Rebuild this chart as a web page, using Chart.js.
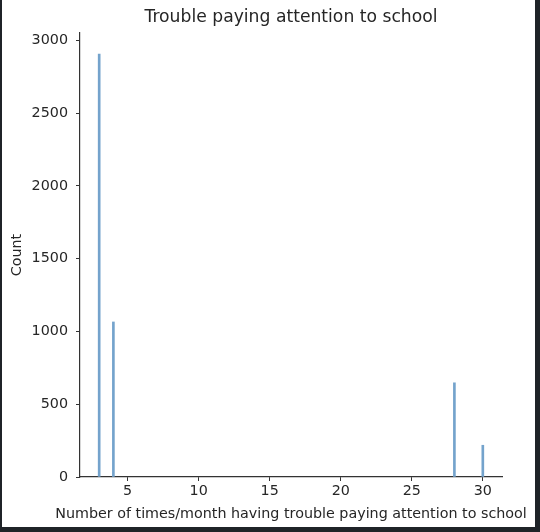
<!DOCTYPE html>
<html>
<head>
<meta charset="utf-8">
<script src="https://cdn.jsdelivr.net/npm/chart.js@4/dist/chart.umd.min.js"></script>
<style>
  html, body { margin: 0; padding: 0; background: #1f2328; width: 540px; height: 532px; overflow: hidden; }
  #frame { position: absolute; left: 2px; top: 0; width: 533px; height: 527px; background: #fff; }
  canvas { display: block; }
</style>
</head>
<body>
<div id="frame"><canvas id="grafico" width="533" height="527"></canvas></div>
<script>
// times per month (x) and how many people reported it
let veces = [3, 4, 28, 30];
let cuentas = [2905, 1065, 647, 218];
let xTicks = [5, 10, 15, 20, 25, 30];
let yTicks = [0, 500, 1000, 1500, 2000, 2500, 3000];

let titulo = 'Trouble paying attention to school';
let xTitulo = 'Number of times/month having trouble paying attention to school';
let yTitulo = 'Count';

Chart.defaults.font.family = '"DejaVu Sans"';
Chart.defaults.font.size = 14.3;
Chart.defaults.color = '#262626';

// title and x label centred over the plot area, like matplotlib does
// (drawn by hand so Chart.js doesn't squeeze the long x label to the axis width)
const textosPlugin = {
    id: 'textosPlot',
    afterDraw(chart) {
        let ctx = chart.ctx;
        let area = chart.chartArea;
        let centro = (area.left + area.right) / 2;
        ctx.save();
        ctx.fillStyle = '#262626';
        ctx.textAlign = 'center';
        ctx.textBaseline = 'middle';
        ctx.font = '17.2px "DejaVu Sans"';
        ctx.fillText(titulo, centro, 18);
        ctx.font = '14.3px "DejaVu Sans"';
        ctx.fillText(xTitulo, centro, area.bottom + 37);
        ctx.restore();
    }
};

function crearGrafico(contenedor) {
    let canvasGrafico = document.getElementById(contenedor);
    let datos = veces.map((v, i) => ({ x: v, y: cuentas[i] }));

    new Chart(canvasGrafico, {
        type: 'bar',
        data: {
            datasets: [{
                data: datos,
                backgroundColor: '#74a3cc',
                borderWidth: 0,
                barThickness: 2
            }]
        },
        options: {
            responsive: false,
            animation: false,
            layout: { padding: { top: 33, right: 33, left: 0, bottom: 0 } },
            plugins: { legend: { display: false }, tooltip: { enabled: false } },
            scales: {
                x: {
                    type: 'linear',
                    offset: false,
                    min: 1.65,
                    max: 31.35,
                    afterFit: (s) => { s.height = 50; },
                    afterBuildTicks: (s) => { s.ticks = xTicks.map(v => ({ value: v })); },
                    grid: { offset: false, drawOnChartArea: false, drawTicks: true, tickLength: 4, color: '#333' },
                    border: { display: true, color: '#333', width: 1.2 },
                    ticks: { padding: 2, maxRotation: 0, callback: (v) => String(v) },
                    title: { display: false }
                },
                y: {
                    min: 0,
                    max: 3050,
                    afterFit: (s) => { s.width = 78; },
                    afterBuildTicks: (s) => { s.ticks = yTicks.map(v => ({ value: v })); },
                    grid: { drawOnChartArea: false, drawTicks: true, tickLength: 4, color: '#333' },
                    border: { display: true, color: '#333', width: 1.2 },
                    ticks: { padding: 8, callback: (v) => String(v) },
                    title: { display: true, text: yTitulo, padding: { top: 7, bottom: 0 } }
                }
            }
        },
        plugins: [textosPlugin]
    });
}

crearGrafico('grafico');
</script>
</body>
</html>
